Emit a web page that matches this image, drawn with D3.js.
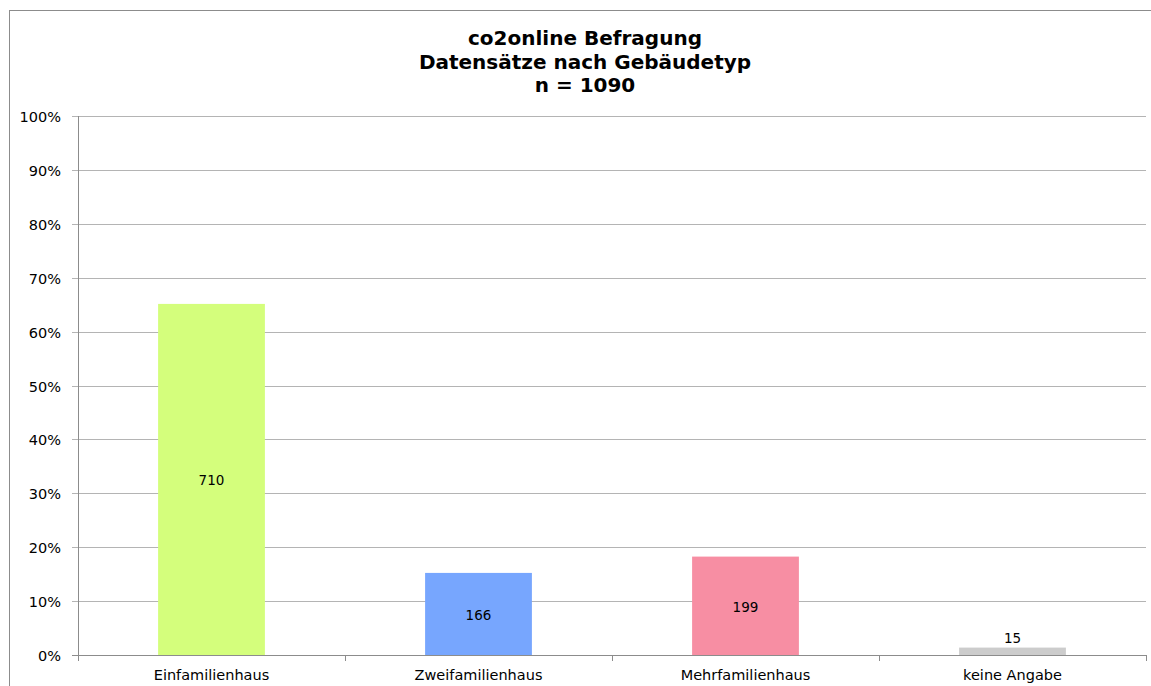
<!DOCTYPE html>
<html>
<head>
<meta charset="utf-8">
<script src="https://cdn.jsdelivr.net/npm/d3@7"></script>
<style>
  body { margin: 0; background: #fff; }
  text { font-family: "DejaVu Sans", Verdana, sans-serif; fill: #000; }
</style>
</head>
<body>
<script>
//chart data
var categories = ["Einfamilienhaus", "Zweifamilienhaus", "Mehrfamilienhaus", "keine Angabe"];
var counts = [710, 166, 199, 15];
var total = 1090;
var colors = ["#d4fe7c", "#77a6fe", "#f78ea3", "#cccccc"];
var titleLines = ["co2online Befragung", "Datensätze nach Gebäudetyp", "n = " + total];
var yTicks = [0, 0.1, 0.2, 0.3, 0.4, 0.5, 0.6, 0.7, 0.8, 0.9, 1.0];

var w = 1151, h = 686;
var margin = {left: 78, right: 5, top: 116, bottom: 31};

window.onload = function(){

    var svg = d3.select("body")
        .append("svg")
        .attr("width", w)
        .attr("height", h);

    //outer chart border
    svg.append("rect")
        .attr("x", 9.5)
        .attr("y", 10.5)
        .attr("width", w + 20)
        .attr("height", h + 20)
        .style("fill", "none")
        .style("stroke", "#8c8c8c");

    var x = d3.scaleBand()
        .domain(categories)
        .range([margin.left, w - margin.right])
        .paddingInner(0.6)
        .paddingOuter(0.3);

    var xEdge = d3.scaleLinear()
        .domain([0, categories.length])
        .range([margin.left, w - margin.right]);

    var y = d3.scaleLinear()
        .domain([0, 1])
        .range([h - margin.bottom, margin.top]);

    //gridlines
    svg.append("g")
        .selectAll("line")
        .data(yTicks)
        .enter()
        .append("line")
        .attr("x1", margin.left - 6)
        .attr("x2", w - margin.right)
        .attr("y1", function(d){ return Math.round(y(d)) + 0.5; })
        .attr("y2", function(d){ return Math.round(y(d)) + 0.5; })
        .style("stroke", function(d){ return d === 0 ? "#8c8c8c" : "#b4b4b4"; })
        .style("stroke-width", 1);

    //y axis line
    svg.append("line")
        .attr("x1", margin.left + 0.5)
        .attr("x2", margin.left + 0.5)
        .attr("y1", y(1))
        .attr("y2", y(0) + 6)
        .style("stroke", "#8c8c8c");

    //y tick labels
    svg.append("g")
        .selectAll("text")
        .data(yTicks)
        .enter()
        .append("text")
        .attr("x", margin.left - 17)
        .attr("y", function(d){ return y(d) + 1; })
        .attr("dy", "0.35em")
        .attr("text-anchor", "end")
        .style("font-size", "14.5px")
        .text(function(d){ return Math.round(d * 100) + "%"; });

    //x category ticks
    svg.append("g")
        .selectAll("line")
        .data(d3.range(categories.length + 1))
        .enter()
        .append("line")
        .attr("x1", function(d){ return Math.round(xEdge(d)) + 0.5; })
        .attr("x2", function(d){ return Math.round(xEdge(d)) + 0.5; })
        .attr("y1", y(0))
        .attr("y2", y(0) + 6)
        .style("stroke", "#8c8c8c");

    //bars
    svg.append("g")
        .selectAll("rect")
        .data(counts)
        .enter()
        .append("rect")
        .attr("x", function(d, i){ return x(categories[i]); })
        .attr("width", x.bandwidth())
        .attr("y", function(d){ return y(d / total); })
        .attr("height", function(d){ return y(0) - y(d / total); })
        .style("fill", function(d, i){ return colors[i]; });

    //value labels
    svg.append("g")
        .selectAll("text")
        .data(counts)
        .enter()
        .append("text")
        .attr("x", function(d, i){ return x(categories[i]) + x.bandwidth() / 2; })
        .attr("y", function(d){
            var top = y(d / total);
            var hgt = y(0) - top;
            return hgt < 20 ? top - 9 : top + hgt / 2 + 1;
        })
        .attr("dy", "0.35em")
        .attr("text-anchor", "middle")
        .style("font-size", "13.5px")
        .text(function(d){ return d; });

    //category labels
    svg.append("g")
        .selectAll("text")
        .data(categories)
        .enter()
        .append("text")
        .attr("x", function(d){ return x(d) + x.bandwidth() / 2; })
        .attr("y", y(0) + 20)
        .attr("dy", "0.35em")
        .attr("text-anchor", "middle")
        .style("font-size", "14.5px")
        .text(function(d){ return d; });

    //title
    svg.append("g")
        .selectAll("text")
        .data(titleLines)
        .enter()
        .append("text")
        .attr("x", 585)
        .attr("y", function(d, i){ return 38 + i * 23.5; })
        .attr("dy", "0.35em")
        .attr("text-anchor", "middle")
        .style("font-size", "20px")
        .style("font-weight", "bold")
        .text(function(d){ return d; });
};
</script>
</body>
</html>
